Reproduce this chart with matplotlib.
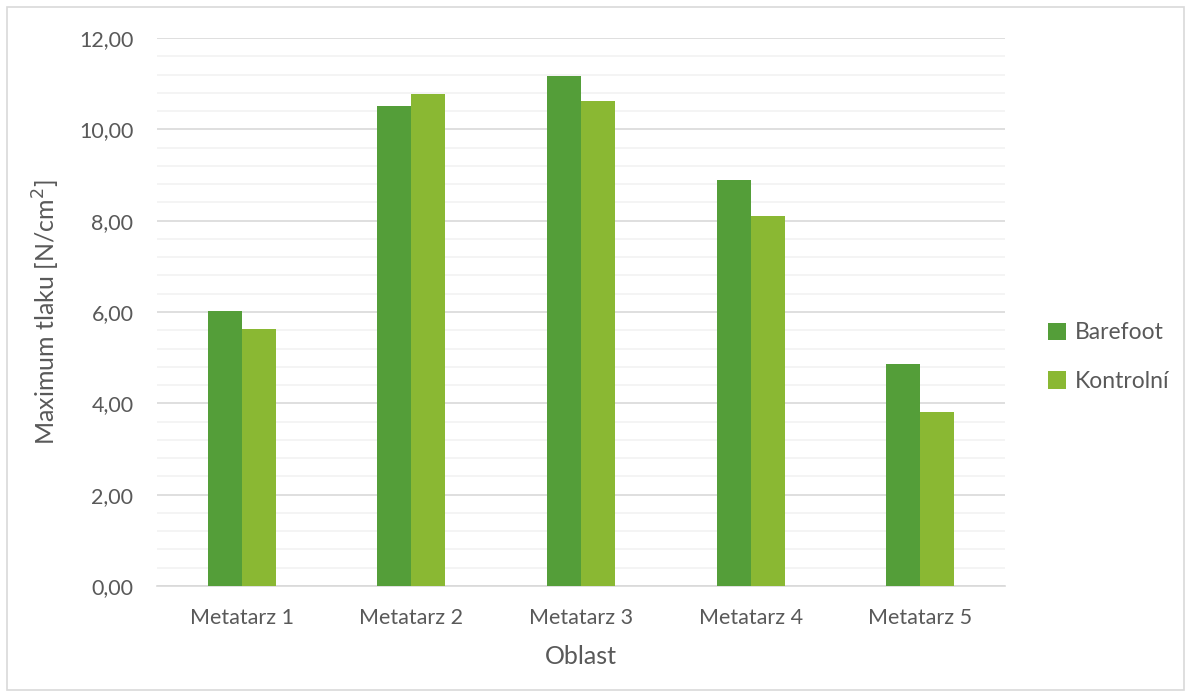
import matplotlib
matplotlib.use("Agg")
import matplotlib.pyplot as plt
import numpy as np
from matplotlib.ticker import MultipleLocator, FuncFormatter
from matplotlib.patches import Rectangle

categories = ["Metatarz 1", "Metatarz 2", "Metatarz 3", "Metatarz 4", "Metatarz 5"]
barefoot = [6.03, 10.52, 11.17, 8.88, 4.87]
kontrolni = [5.62, 10.77, 10.62, 8.10, 3.80]
series_names = ["Barefoot", "Kontrolní"]
colors = ["#549E39", "#8AB833"]

plt.rcParams['font.family'] = ['Lato', 'DejaVu Sans']
text_color = "#595959"

W, H = 1188, 697
fig = plt.figure(figsize=(W/100, H/100), dpi=100)
ax = fig.add_axes([157/W, 1-586/H, (1005-157)/W, (586-38)/H])

x = np.arange(len(categories))
bw = 0.2
ax.bar(x - bw/2, barefoot, bw, color=colors[0], label=series_names[0], zorder=3)
ax.bar(x + bw/2, kontrolni, bw, color=colors[1], label=series_names[1], zorder=3)

ax.set_xlim(-0.5, len(categories) - 0.5)
ax.set_ylim(0, 12)
ax.yaxis.set_major_locator(MultipleLocator(2))
ax.yaxis.set_minor_locator(MultipleLocator(0.4))
ax.yaxis.set_major_formatter(FuncFormatter(lambda v, p: f"{v:.2f}".replace(".", ",")))
ax.grid(axis='y', which='major', color="#D9D9D9", linewidth=1.2, zorder=1)
ax.grid(axis='y', which='minor', color="#F2F2F2", linewidth=1.2, zorder=1)
ax.set_xticks(x)
ax.set_xticklabels(categories)
for s in ["top", "right", "left"]:
    ax.spines[s].set_visible(False)
ax.spines["bottom"].set_color("#D9D9D9")
ax.spines["bottom"].set_linewidth(1.2)
ax.tick_params(axis='both', which='both', length=0, colors=text_color, labelsize=15.5)
ax.tick_params(axis='x', pad=16)
ax.tick_params(axis='y', pad=17)

ax.set_xlabel("Oblast", fontsize=18, color=text_color)
ax.set_ylabel("Maximum tlaku [N/cm$^2$]", fontsize=18, color=text_color)
ax.xaxis.set_label_coords(0.5, (586-657)/548, transform=ax.transAxes)
ax.yaxis.set_label_coords((46-157)/848, 0.5, transform=ax.transAxes)
ax.xaxis.label.set_va('center')
ax.yaxis.label.set_va('center')

leg = fig.legend(loc='center left', bbox_to_anchor=(1027/W, 1-357/H), frameon=False,
                 fontsize=16.5, handlelength=0.8, handleheight=0.8, handletextpad=0.4,
                 labelspacing=1.2, labelcolor=text_color)

fig.patches.append(Rectangle((7/W, 1-690/H), (1184-7)/W, (690-7)/H, transform=fig.transFigure,
                             fill=False, edgecolor="#D9D9D9", linewidth=1.2))

fig.savefig("out.png", dpi=100)
